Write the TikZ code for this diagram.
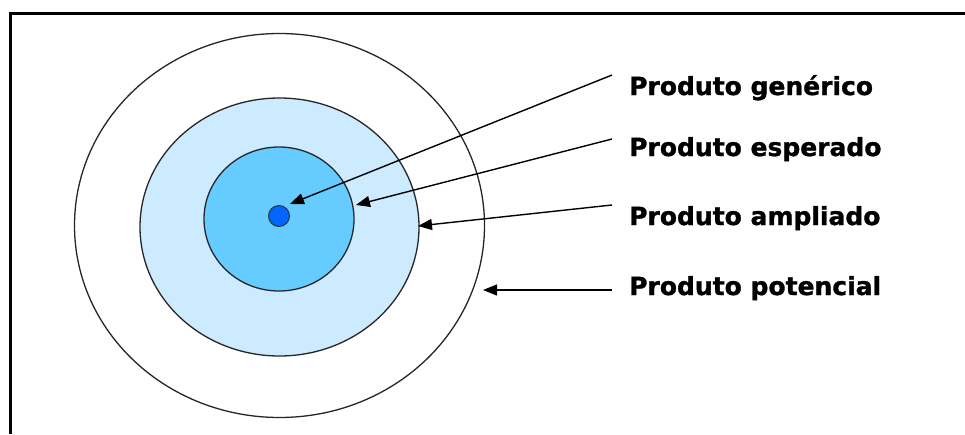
\documentclass[tikz,border=0pt]{standalone}
\usepackage{fontspec}
\setmainfont{DejaVu Sans}[BoldFeatures={FakeBold=1.2}]
\usetikzlibrary{arrows.meta}
\definecolor{ringlight}{HTML}{CCEBFF}
\definecolor{ringmid}{HTML}{66CCFF}
\definecolor{coredot}{HTML}{0066FF}
\tikzset{
  lbl/.style={anchor=base west, inner sep=0pt, font=\fontsize{25}{30}\selectfont\bfseries},
  ring/.style={draw=black!85, line width=1.3pt},
  arr/.style={draw=black, line width=1.4pt, -{Triangle[length=14pt,width=11pt]}}
}
\begin{document}
\begin{tikzpicture}[x=1pt,y=-1pt]
\useasboundingbox (0,0) rectangle (965,434);
\draw[line width=3pt] (10,434) -- (10,13) -- (965,13);
% rings
\draw[ring, fill=white] (279.5,225.5) ellipse [x radius=205pt, y radius=192pt];
\draw[ring, fill=ringlight] (279.5,227) ellipse [x radius=139.5pt, y radius=129pt];
\draw[ring, fill=ringmid] (279,219) ellipse [x radius=75pt, y radius=72pt];
\node[circle, draw=black!80, line width=1pt, fill=coredot, minimum size=21pt, inner sep=0pt] (core) at (279,216) {};
% labels
\node[lbl] (g) at (629,95) {Produto genérico};
\node[lbl] (e) at (629,156) {Produto esperado};
\node[lbl] (a) at (629,225) {Produto ampliado};
\node[lbl] (p) at (629,295) {Produto potencial};
% arrow ends
\coordinate (s1) at (612,75);  \coordinate (t1) at (290,204);
\coordinate (s2) at (612,139); \coordinate (t2) at (356,205);
\coordinate (s3) at (612,205); \coordinate (t3) at (418,226);
\coordinate (s4) at (612,290); \coordinate (t4) at (483,290);
\draw[arr] (s1) -- (t1);
\draw[arr] (s2) -- (t2);
\draw[arr] (s3) -- (t3);
\draw[arr] (s4) -- (t4);
\end{tikzpicture}
\end{document}
